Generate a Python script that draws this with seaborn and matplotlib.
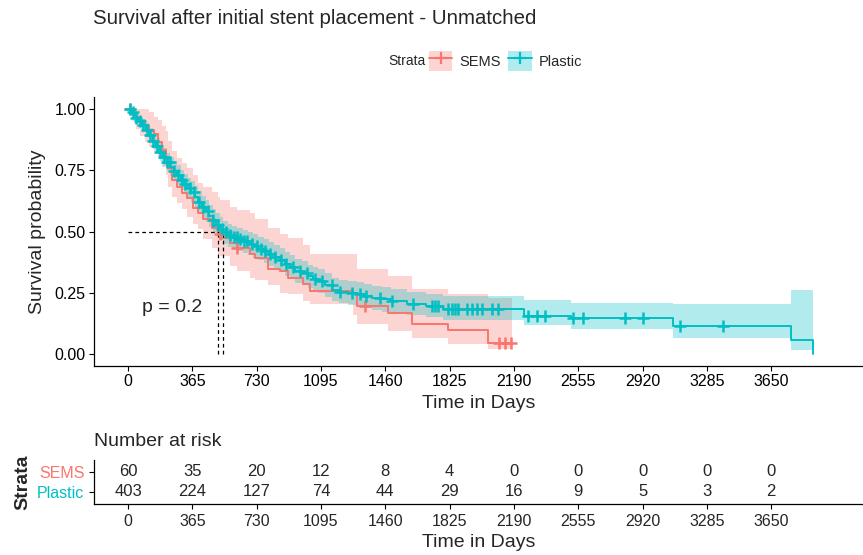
import numpy as np
import pandas as pd
import matplotlib
matplotlib.use("Agg")
import matplotlib.pyplot as plt
from matplotlib.patches import Patch
from matplotlib.lines import Line2D
import seaborn as sns

sns.set_theme(style="ticks")
plt.rcParams["font.family"] = ["Liberation Sans", "DejaVu Sans"]

COL_SEMS = "#F8766D"
COL_PLASTIC = "#00BFC4"

# Kaplan-Meier estimates (days, survival, CI)
sems_time = [0, 20, 45, 70, 95, 120, 145, 170, 195, 215,
             227, 250, 278, 306, 335, 369, 400, 426, 477, 511,
             522, 580, 619, 692, 721, 795, 863, 908, 993, 1033,
             1277, 1300, 1475, 1612, 1816, 2043, 2180]
sems_surv = [1.000, 0.983, 0.967, 0.950, 0.933, 0.917, 0.900, 0.867, 0.833, 0.800,
             0.758, 0.709, 0.680, 0.656, 0.635, 0.598, 0.575, 0.553, 0.516, 0.490,
             0.475, 0.455, 0.434, 0.410, 0.393, 0.348, 0.340, 0.311, 0.287, 0.258,
             0.250, 0.197, 0.168, 0.123, 0.098, 0.045, 0.045]
sems_lower = [1.00, 0.95, 0.92, 0.89, 0.865, 0.845, 0.83, 0.80, 0.765, 0.73,
              0.68, 0.64, 0.615, 0.59, 0.56, 0.53, 0.51, 0.47, 0.434, 0.41,
              0.40, 0.36, 0.34, 0.31, 0.30, 0.28, 0.25, 0.246, 0.215, 0.205,
              0.16, 0.123, 0.094, 0.066, 0.041, 0.02, 0.02]
sems_upper = [1.00, 1.00, 1.00, 1.00, 1.00, 0.99, 0.97, 0.955, 0.93, 0.91,
              0.87, 0.83, 0.80, 0.78, 0.76, 0.73, 0.70, 0.68, 0.66, 0.64,
              0.627, 0.60, 0.586, 0.574, 0.55, 0.516, 0.49, 0.475, 0.443, 0.41,
              0.41, 0.345, 0.32, 0.266, 0.245, 0.23, 0.23]
sems_censor = [10, 520, 619, 1345, 2106, 2140, 2174]

plastic_time = [0, 15, 30, 45, 60, 80, 100, 120, 140, 160,
                180, 200, 220, 240, 260, 280, 300, 320, 340, 360,
                380, 400, 420, 440, 460, 480, 500, 520, 540, 565,
                590, 620, 650, 680, 710, 740, 770, 800, 830, 860,
                890, 920, 950, 985, 1020, 1050, 1080, 1120, 1160, 1200,
                1250, 1300, 1340, 1385, 1440, 1490, 1585, 1690, 1790, 2245,
                2515, 3090, 3765, 3890]
plastic_surv = [1.000, 0.990, 0.978, 0.965, 0.950, 0.935, 0.915, 0.895, 0.870, 0.848,
                0.825, 0.805, 0.785, 0.765, 0.748, 0.730, 0.712, 0.695, 0.678, 0.662,
                0.642, 0.622, 0.602, 0.582, 0.563, 0.545, 0.528, 0.512, 0.497, 0.485,
                0.476, 0.468, 0.460, 0.450, 0.440, 0.430, 0.419, 0.408, 0.396, 0.382,
                0.368, 0.353, 0.340, 0.330, 0.316, 0.305, 0.296, 0.280, 0.262, 0.254,
                0.249, 0.244, 0.236, 0.228, 0.222, 0.216, 0.205, 0.196, 0.184, 0.156,
                0.148, 0.115, 0.057, 0.000]
plastic_lower = [1.0, 0.98, 0.963, 0.946, 0.928, 0.91, 0.888, 0.865, 0.838, 0.815,
                 0.79, 0.769, 0.748, 0.727, 0.709, 0.69, 0.671, 0.653, 0.636, 0.619,
                 0.598, 0.578, 0.557, 0.537, 0.517, 0.499, 0.482, 0.465, 0.45, 0.438,
                 0.428, 0.42, 0.412, 0.402, 0.392, 0.382, 0.37, 0.359, 0.347, 0.333,
                 0.319, 0.304, 0.291, 0.281, 0.267, 0.256, 0.247, 0.231, 0.214, 0.206,
                 0.2, 0.195, 0.187, 0.179, 0.172, 0.168, 0.158, 0.149, 0.139, 0.119,
                 0.102, 0.066, 0.016, 0.016]
plastic_upper = [1.0, 1.0, 0.993, 0.984, 0.972, 0.96, 0.942, 0.925, 0.902, 0.881,
                 0.86, 0.841, 0.822, 0.803, 0.787, 0.77, 0.753, 0.737, 0.72, 0.705,
                 0.686, 0.666, 0.647, 0.627, 0.609, 0.591, 0.574, 0.559, 0.544, 0.532,
                 0.524, 0.516, 0.508, 0.498, 0.488, 0.478, 0.468, 0.457, 0.445, 0.431,
                 0.417, 0.402, 0.389, 0.379, 0.365, 0.354, 0.345, 0.329, 0.31, 0.302,
                 0.298, 0.293, 0.285, 0.277, 0.272, 0.266, 0.252, 0.245, 0.238, 0.221,
                 0.209, 0.205, 0.262, 0.262]
plastic_censor = [11, 28, 45, 68, 85, 108, 125, 142, 165, 182, 204, 221, 238, 261, 284,
                  306, 323, 352, 375, 403, 426, 454, 482, 511, 533, 556, 579, 602, 619,
                  636, 658, 675, 704, 732, 755, 778, 806, 834, 868, 897, 936, 976, 1016,
                  1061, 1101, 1158, 1203, 1271, 1317, 1351, 1430, 1498, 1617, 1725, 1742,
                  1759, 1816, 1839, 1856, 1873, 1924, 1952, 1981, 2009, 2066, 2100, 2270,
                  2321, 2367, 2525, 2582, 2821, 2923, 3133, 3377]

time_breaks = [0, 365, 730, 1095, 1460, 1825, 2190, 2555, 2920, 3285, 3650]
sems_risk = [60, 35, 20, 12, 8, 4, 0, 0, 0, 0, 0]
plastic_risk = [403, 224, 127, 74, 44, 29, 16, 9, 5, 3, 2]
p_label = "p = 0.2"

strata = {
    "SEMS": (sems_time, sems_surv, sems_lower, sems_upper, sems_censor, COL_SEMS),
    "Plastic": (plastic_time, plastic_surv, plastic_lower, plastic_upper, plastic_censor, COL_PLASTIC),
}
palette = {k: v[5] for k, v in strata.items()}


def step_value(times, values, t):
    idx = np.searchsorted(times, t, side="right") - 1
    return np.asarray(values)[idx]


curves = []
cens = []
for name, (t, s, lo, hi, c, col) in strata.items():
    curves.append(pd.DataFrame({"time": t, "surv": s, "strata": name}))
    cens.append(pd.DataFrame({"time": c, "surv": step_value(t, s, c), "strata": name}))
curves = pd.concat(curves, ignore_index=True)
cens = pd.concat(cens, ignore_index=True)

W, H = 863, 555
fig = plt.figure(figsize=(W / 100, H / 100), dpi=100)
ax = fig.add_axes([94 / W, (H - 366) / H, (W - 94) / W, (366 - 97) / H])
ax_risk = fig.add_axes([94 / W, (H - 504) / H, (W - 94) / W, (504 - 460) / H])

for name, (t, s, lo, hi, c, col) in strata.items():
    ax.fill_between(t, lo, hi, step="post", color=col, alpha=0.3, linewidth=0)

sns.lineplot(data=curves, x="time", y="surv", hue="strata", palette=palette,
             drawstyle="steps-post", linewidth=1.4, errorbar=None, legend=False, ax=ax)
sns.scatterplot(data=cens, x="time", y="surv", hue="strata", palette=palette,
                marker="+", s=75, linewidth=1.8, legend=False, ax=ax, zorder=3)

# median survival lines
medians = []
for name, (t, s, lo, hi, c, col) in strata.items():
    s_arr = np.asarray(s)
    medians.append(np.asarray(t)[np.argmax(s_arr <= 0.5)])
ax.plot([0, max(medians)], [0.5, 0.5], color="black", ls=(0, (3, 2.5)), lw=0.9)
for m in medians:
    ax.plot([m, m], [0, 0.5], color="black", ls=(0, (3, 2.5)), lw=0.9)

ax.text(250, 0.19, p_label, ha="center", va="center", fontsize=14)

ax.set_xlim(-193, 4171)
ax.set_ylim(-0.05, 1.05)
ax.set_xticks(time_breaks)
ax.set_xticklabels([str(b) for b in time_breaks])
ax.set_yticks([0, 0.25, 0.5, 0.75, 1.0])
ax.set_yticklabels(["0.00", "0.25", "0.50", "0.75", "1.00"])
ax.set_xlabel("Time in Days", fontsize=14, labelpad=4)
ax.set_ylabel("Survival probability", fontsize=14, labelpad=6)
ax.tick_params(labelsize=11.5, length=3.5, width=0.8, color="black", labelcolor="black", pad=2.5)
sns.despine(ax=ax)
for sp in ["left", "bottom"]:
    ax.spines[sp].set_linewidth(0.9)
    ax.spines[sp].set_color("black")

fig.text(93 / W, 1 - 19 / H, "Survival after initial stent placement - Unmatched",
         ha="left", va="center", fontsize=14.7)

fig.text(388 / W, 1 - 61 / H, "Strata", ha="left", va="center", fontsize=10)
handles = [(Patch(facecolor=col, alpha=0.3, edgecolor="none"),
            Line2D([], [], color=col, marker="+", markersize=9, lw=1.4, mew=1.6))
           for col in palette.values()]
fig.legend(handles, list(palette.keys()), loc="center left",
           bbox_to_anchor=(429 / W, 1 - 61 / H), ncol=2, frameon=False, fontsize=10.5,
           handlelength=1.6, handleheight=1.8, handletextpad=0.5, columnspacing=0.5,
           borderpad=0, borderaxespad=0)

# risk table
for x, a, b in zip(time_breaks, sems_risk, plastic_risk):
    ax_risk.text(x, 2, str(a), ha="center", va="center", fontsize=12)
    ax_risk.text(x, 1, str(b), ha="center", va="center", fontsize=12)
ax_risk.set_xlim(-193, 4171)
ax_risk.set_ylim(0.4, 2.6)
ax_risk.set_xticks(time_breaks)
ax_risk.set_xticklabels([str(b) for b in time_breaks])
ax_risk.set_yticks([2, 1])
ax_risk.set_yticklabels(["SEMS", "Plastic"])
for lbl, col in zip(ax_risk.get_yticklabels(), [COL_SEMS, COL_PLASTIC]):
    lbl.set_color(col)
ax_risk.tick_params(labelsize=11.5, length=3.5, width=0.8, color="black", pad=3.5)
ax_risk.set_xlabel("Time in Days", fontsize=14, labelpad=4)
ax_risk.set_ylabel("Strata", fontsize=14, fontweight="bold", labelpad=4)
ax_risk.set_title("Number at risk", loc="left", fontsize=14, pad=10)
sns.despine(ax=ax_risk)
for sp in ["left", "bottom"]:
    ax_risk.spines[sp].set_linewidth(0.9)
    ax_risk.spines[sp].set_color("black")

fig.savefig("out.png", dpi=100)
